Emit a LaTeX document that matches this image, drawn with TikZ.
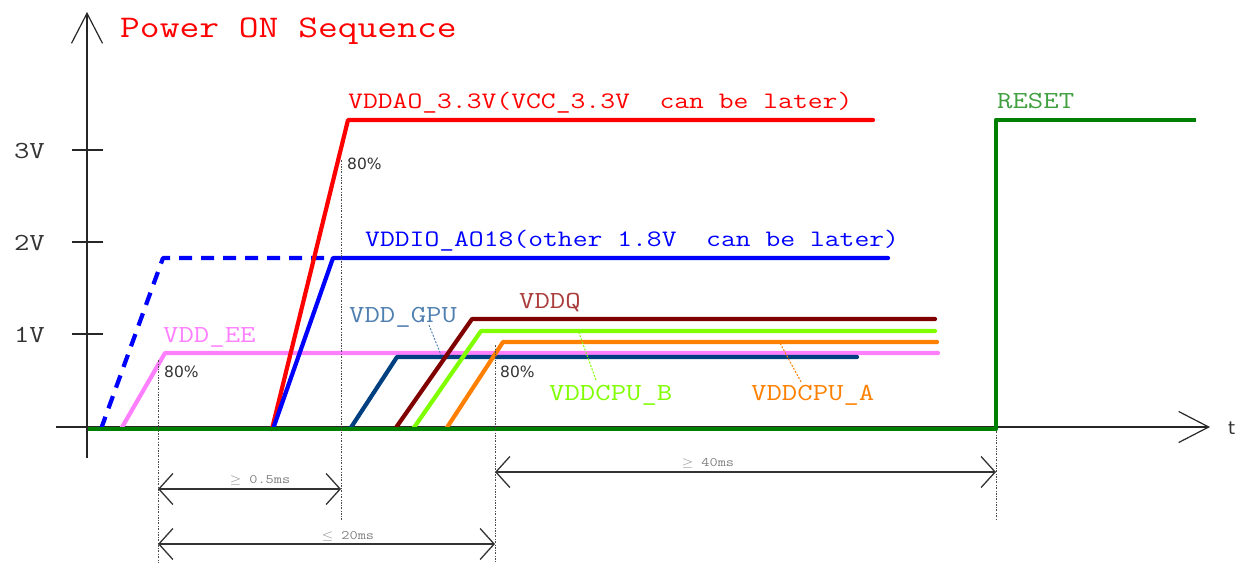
\documentclass[tikz,border=0pt]{standalone}
\usepackage{fontspec}
\usepackage{amssymb}
\usetikzlibrary{arrows.meta}
\newfontfamily\dejavu{DejaVu Sans}
\definecolor{eecol}{RGB}{255,128,255}
\definecolor{gpucol}{RGB}{0,64,128}
\definecolor{gputxt}{RGB}{80,128,176}
\definecolor{ddrcol}{RGB}{128,0,0}
\definecolor{ddrtxt}{RGB}{170,60,60}
\definecolor{cpubcol}{RGB}{128,255,0}
\definecolor{cpuacol}{RGB}{255,128,0}
\definecolor{rstcol}{RGB}{0,128,0}
\definecolor{rsttxt}{RGB}{64,160,64}
\newcommand\wide[1]{\scalebox{1.22}[1]{#1}}

\begin{document}
\begin{tikzpicture}[x=1pt,y=-1pt,
    sig/.style={line width=4.2pt, line cap=round, line join=round},
    axis/.style={line width=1.2pt, black!85, -{Straight Barb[length=30pt,width=31pt]}},
    guide/.style={line width=0.8pt, gray!60!black, dash pattern=on 2pt off 1.5pt on 0.6pt off 1.5pt},
    span/.style={line width=1.3pt, black!80, {Straight Barb[length=14pt,width=31pt]}-{Straight Barb[length=14pt,width=31pt]}},
    lbl/.style={font=\ttfamily\fontsize{24.5}{26}\selectfont, inner sep=0pt, anchor=base west},
    longlbl/.style={lbl, font=\ttfamily\fontsize{23.6}{25}\selectfont},
    pct/.style={font=\dejavu\fontsize{15.5}{17}\selectfont, text=black!80, inner sep=0pt, anchor=west},
    dim/.style={font=\ttfamily\fontsize{13}{15}\selectfont, text=black!50, inner sep=0pt, anchor=base},
    leader/.style={line width=1pt, dash pattern=on 2pt off 1.5pt}]
\useasboundingbox (0,0) rectangle (1235,563);

% axes
\draw[axis] (56,427) -- (1210,427);
\draw[axis] (87,458) -- (87,12);
\node[font=\dejavu\fontsize{18}{20}\selectfont, text=black!80, anchor=west, inner sep=0pt] (tlbl) at (1228,428) {t};
\foreach \v/\y in {3/150,2/242,1/334} {
  \draw[line width=1.2pt, black!85] (72,\y) -- (103,\y);
  \node[lbl, anchor=base east, text=black!80] (v\v) at (45,\y+8) {\wide{\v V}};
}
\node[lbl, font=\ttfamily\fontsize{31.5}{33}\selectfont, text=red] (title) at (120,37) {\wide{Power ON Sequence}};

% rails
\draw[sig, blue, line cap=butt, dash pattern=on 13pt off 9pt] (101,429) -- (163,258) -- (332,258);
\draw[sig, eecol] (121,429) -- (165,353) -- (938,353);
\draw[sig, red] (272,429) -- (348,120) -- (873,120);
\draw[sig, blue] (273,429) -- (333,258) -- (888,258);
\draw[sig, gpucol] (350,429) -- (397,357) -- (857,357);
\draw[sig, ddrcol] (395,429) -- (472,319) -- (935,319);
\draw[sig, cpubcol] (413,429) -- (481,331) -- (935,331);
\draw[sig, cpuacol] (446,429) -- (503,342) -- (937,342);
\draw[sig, rstcol, line cap=butt] (88,429) -- (996,429) -- (996,120) -- (1196,120);

% rail names
\node[longlbl, text=red] (ao33) at (348,108) {\wide{VDDAO\_3.3V(VCC\_3.3V\ \ can be later)}};
\node[longlbl, text=blue] (io18) at (365,246) {\wide{VDDIO\_AO18(other 1.8V\ \ can be later)}};
\node[lbl, text=eecol] (ee) at (163,342) {\wide{VDD\_EE}};
\node[lbl, text=gputxt] (gpu) at (349,322) {\wide{VDD\_GPU}};
\node[lbl, text=ddrtxt] (ddr) at (519,308) {\wide{VDDQ}};
\node[lbl, text=cpubcol] (cpub) at (549,400) {\wide{VDDCPU\_B}};
\node[lbl, text=cpuacol] (cpua) at (751,400) {\wide{VDDCPU\_A}};
\node[lbl, text=rsttxt] (rst) at (997,108) {\wide{RESET}};

% leaders
\coordinate (gpuend) at (441,355);
\coordinate (cpubend) at (579,333);
\coordinate (cpuaend) at (780,343);
\draw[leader, gputxt] (429,325) -- (gpuend);
\draw[leader, cpubcol] (596,380) -- (cpubend);
\draw[leader, cpuacol] (801,382) -- (cpuaend);

% 80% marks
\coordinate (ee80) at (158,360);
\coordinate (ao80) at (341,160);
\coordinate (cpu80) at (495,345);
\coordinate (rstup) at (996,431);
\draw[guide] (ee80) -- (ee80 |- 0,563);
\draw[guide] (ao80) -- (ao80 |- 0,520);
\draw[guide] (cpu80) -- (cpu80 |- 0,563);
\draw[guide] (rstup) -- (rstup |- 0,520);
\node[pct] (p1) at (164,372) {80\%};
\node[pct] (p2) at (347,164) {80\%};
\node[pct] (p3) at (500,372) {80\%};

% timing
\draw[span] (ee80 |- 0,489) -- (ao80 |- 0,489);
\draw[span] (ee80 |- 0,544) -- (cpu80 |- 0,544);
\draw[span] (cpu80 |- 0,472) -- (rstup |- 0,472);
\node[dim] (t1) at (260,483) {\wide{$\geq$ 0.5ms}};
\node[dim] (t2) at (348,539) {\wide{$\leq$ 20ms}};
\node[dim] (t3) at (708,466) {\wide{$\geq$ 40ms}};
\end{tikzpicture}
\end{document}
